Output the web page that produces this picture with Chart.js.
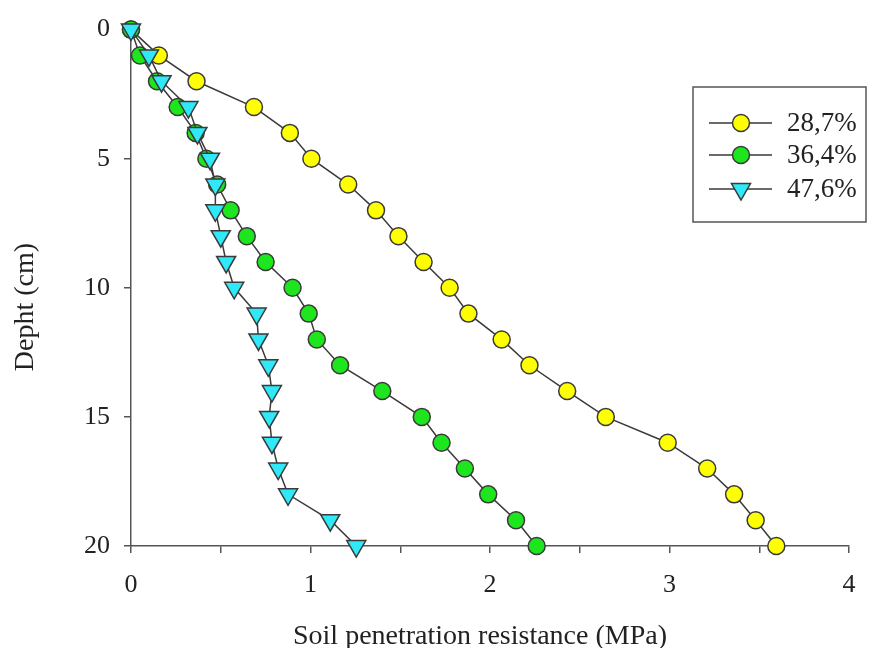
<!DOCTYPE html>
<html>
<head>
<meta charset="utf-8">
<script src="https://cdn.jsdelivr.net/npm/chart.js@4"></script>
<style>
html,body{margin:0;padding:0;background:#fff;}
#wrap{width:875px;height:648px;}
</style>
</head>
<body>
<div id="wrap"><canvas id="c" width="875" height="648"></canvas></div>
<script>
const depths = [0,1,2,3,4,5,6,7,8,9,10,11,12,13,14,15,16,17,18,19,20];
const seriesNames = ['28,7%', '36,4%', '47,6%'];
const s287 = [0,0.155,0.365,0.685,0.885,1.005,1.21,1.365,1.49,1.63,1.775,1.88,2.065,2.22,2.43,2.645,2.99,3.21,3.36,3.48,3.595];
const s364 = [0,0.05,0.145,0.26,0.36,0.42,0.48,0.555,0.645,0.75,0.9,0.99,1.035,1.165,1.4,1.62,1.73,1.86,1.99,2.145,2.26];
const s476 = [0,0.1,0.17,0.32,0.37,0.44,0.47,0.47,0.5,0.53,0.575,0.7,0.71,0.765,0.785,0.77,0.785,0.82,0.875,1.11,1.255];
const xTicksMax = 4;
const yTicksMax = 20;
const xTitle = 'Soil penetration resistance (MPa)';
const yTitle = 'Depht (cm)';

const FONT = "'Liberation Serif', 'Times New Roman', serif";
const INK = '#3a3a3a';

function pts(vals){ return vals.map((v,i)=>({x:v, y:depths[i]})); }

const styles = [
  {bg:'#FFFF00', style:'circle', r:8.5, rot:0},
  {bg:'#1EE61E', style:'circle', r:8.5, rot:0},
  {bg:'#2FE8F8', style:'triangle', r:11, rot:180}
];
const seriesVals = [s287, s364, s476];

const datasets = seriesVals.map((vals, i) => ({
  label: seriesNames[i],
  data: pts(vals),
  showLine: true,
  clip: false,
  borderColor: INK,
  borderWidth: 1.5,
  pointBackgroundColor: styles[i].bg,
  pointBorderColor: INK,
  pointBorderWidth: 1.5,
  pointStyle: styles[i].style,
  pointRadius: styles[i].r,
  pointHoverRadius: styles[i].r,
  pointRotation: styles[i].rot,
  order: 3 - i
}));

const decor = {
  id: 'decor',
  afterDraw(chart){
    const ctx = chart.ctx;
    ctx.save();
    ctx.fillStyle = '#222';
    ctx.font = '28px ' + FONT;
    ctx.textAlign = 'center';
    ctx.textBaseline = 'alphabetic';
    ctx.fillText(xTitle, 480, 644);
    ctx.save();
    ctx.translate(33, 307);
    ctx.rotate(-Math.PI/2);
    ctx.fillText(yTitle, 0, 0);
    ctx.restore();
    const bx = 693, by = 87, bw = 173, bh = 135;
    ctx.fillStyle = '#fff';
    ctx.fillRect(bx, by, bw, bh);
    ctx.strokeStyle = '#555';
    ctx.lineWidth = 1.5;
    ctx.strokeRect(bx, by, bw, bh);
    const rows = [123, 155, 189];
    chart.data.datasets.forEach((ds, i) => {
      const y = rows[i];
      ctx.strokeStyle = INK;
      ctx.lineWidth = 1.5;
      ctx.beginPath();
      ctx.moveTo(709, y); ctx.lineTo(772, y);
      ctx.stroke();
      ctx.fillStyle = ds.pointBackgroundColor;
      ctx.strokeStyle = INK;
      Chart.helpers.drawPoint(ctx, {pointStyle: ds.pointStyle, radius: ds.pointRadius, rotation: ds.pointRotation, borderWidth: 1.5}, 741, y);
      ctx.fillStyle = '#222';
      ctx.font = '27px ' + FONT;
      ctx.textAlign = 'left';
      ctx.textBaseline = 'middle';
      ctx.fillText(ds.label, 787, y + 1);
    });
    ctx.restore();
  }
};

new Chart(document.getElementById('c'), {
  type: 'scatter',
  data: { datasets },
  options: {
    responsive: false,
    animation: false,
    layout: { padding: { left: 0, top: 27, right: 26, bottom: 0 } },
    plugins: { legend: { display: false }, tooltip: { enabled: false } },
    scales: {
      x: {
        type: 'linear', min: 0, max: xTicksMax,
        ticks: {
          stepSize: 0.5,
          color: '#222',
          font: { family: FONT, size: 26 },
          padding: 17,
          maxRotation: 0,
          callback: v => Number.isInteger(v) ? String(v) : ''
        },
        grid: { drawOnChartArea: false, drawTicks: true, tickLength: 7, color: '#555', lineWidth: 1.5 },
        border: { display: true, color: '#555', width: 1.5 },
        afterFit(s){ s.height = 102; }
      },
      y: {
        type: 'linear', min: 0, max: yTicksMax, reverse: true,
        ticks: {
          stepSize: 5,
          color: '#222',
          font: { family: FONT, size: 26 },
          padding: 14
        },
        grid: { drawOnChartArea: false, drawTicks: true, tickLength: 7, color: '#555', lineWidth: 1.5 },
        border: { display: true, color: '#555', width: 1.5 },
        afterFit(s){ s.width = 131; }
      }
    }
  },
  plugins: [decor]
});
</script>
</body>
</html>
